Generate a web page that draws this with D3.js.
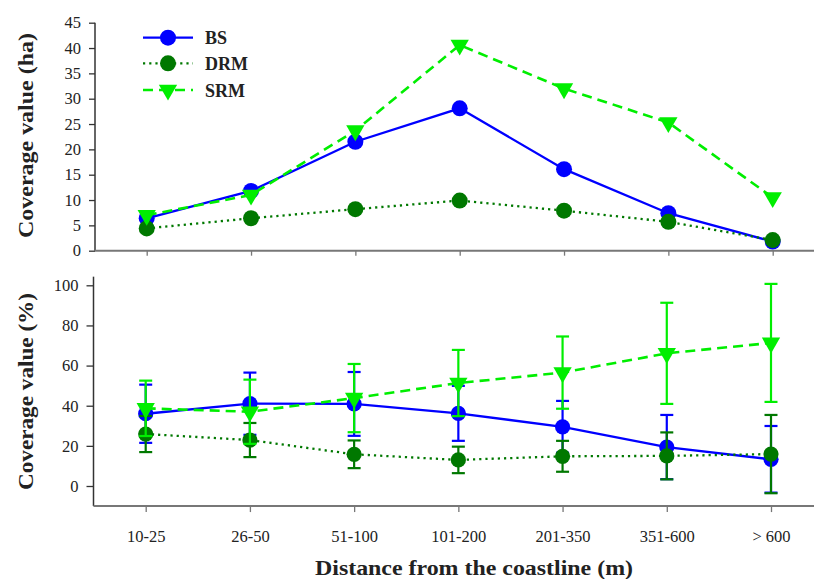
<!DOCTYPE html>
<html>
<head>
<meta charset="utf-8">
<script src="https://cdn.jsdelivr.net/npm/d3@7"></script>
<style>
  html, body { margin: 0; padding: 0; background: #fff; }
  svg { display: block; }
</style>
</head>
<body>
<svg id="chart" width="814" height="579"></svg>
<script>
// ---- data ----
const categories = ["10-25", "26-50", "51-100", "101-200", "201-350", "351-600", "> 600"];
const seriesNames = ["BS", "DRM", "SRM"];

// top panel: coverage value (ha)
const haBS  = [6.4, 11.8, 21.5, 28.1, 16.1, 7.4, 1.8];
const haDRM = [4.4, 6.4, 8.2, 9.9, 7.9, 5.7, 2.1];
const haSRM = [7.0, 11.0, 23.7, 40.6, 32.0, 25.3, 10.5];
const haTicks = [0, 5, 10, 15, 20, 25, 30, 35, 40, 45];

// bottom panel: coverage value (%) with error bars
const pctBS  = [36.0, 41.0, 40.9, 36.2, 29.5, 19.4, 13.3];
const errBS  = [14.5, 15.5, 15.9, 13.7, 12.9, 16.0, 16.6];
const pctDRM = [25.9, 22.9, 15.8, 13.0, 14.8, 15.0, 15.9];
const errDRM = [9.0, 8.5, 6.9, 6.6, 7.7, 11.7, 19.5];
const pctSRM = [38.7, 37.0, 43.8, 51.3, 56.5, 66.1, 71.3];
const errSRM = [13.8, 16.0, 17.0, 16.5, 18.0, 25.2, 29.4];
const pctTicks = [0, 20, 40, 60, 80, 100];

// ---- pick an installed serif font ----
function pickFont(cands) {
  const ctx = document.createElement("canvas").getContext("2d");
  const s = "mmmmmmmmmmlliiWQ@ 0123456789 abcdefghijklmnop";
  for (const f of cands) {
    for (const base of ["monospace", "sans-serif"]) {
      ctx.font = `40px ${base}`;
      const w0 = ctx.measureText(s).width;
      ctx.font = `40px "${f}", ${base}`;
      const w1 = ctx.measureText(s).width;
      if (Math.abs(w0 - w1) > 0.5) return `"${f}", serif`;
    }
  }
  return "serif";
}
const FONT = pickFont(["Liberation Serif", "Tinos", "Times New Roman", "Nimbus Roman", "DejaVu Serif", "Noto Serif"]);

// ---- styles ----
const styles = {
  BS:  { color: "#0000ff", dash: null,    width: 2.3, marker: "circle" },
  DRM: { color: "#007800", dash: "2.2,4", width: 2.3, marker: "circle" },
  SRM: { color: "#00ee00", dash: "10,6",  width: 2.6, marker: "triangle" }
};

const svg = d3.select("#chart");
const W = 814;

// ---- scales ----
const xTop = d3.scalePoint().domain(categories).range([146.7, 772.7]);
const yTop = d3.scaleLinear().domain([0, 45]).range([250.7, 22.7]);
const xBot = d3.scalePoint().domain(categories).range([145.7, 771]);
const yBot = d3.scaleLinear().domain([0, 100]).range([486, 285.3]);

function drawMarker(g, name, cx, cy, big) {
  const st = styles[name];
  if (st.marker === "circle") {
    g.append("circle").attr("cx", cx).attr("cy", cy).attr("r", big ? 8 : 7.6)
      .attr("fill", st.color);
  } else {
    g.append("path")
      .attr("d", d3.symbol().type(d3.symbolTriangle).size(145)())
      .attr("transform", `translate(${cx},${cy}) rotate(180)`)
      .attr("fill", st.color);
  }
}

function styleAxis(g, color) {
  g.selectAll(".domain").remove();
  g.attr("font-family", null).attr("font-size", null);
  g.selectAll(".tick line").attr("stroke", color).attr("stroke-width", 1.3);
  g.selectAll(".tick text").attr("fill", "#222")
    .style("font-size", "16.5px").style("font-family", FONT);
}

// ---- top panel axes ----
const gyTop = svg.append("g").attr("transform", `translate(95,0)`)
  .call(d3.axisLeft(yTop).tickValues(haTicks).tickSize(6).tickPadding(8));
styleAxis(gyTop, "#333");
svg.append("line").attr("x1", 95).attr("x2", 95)
  .attr("y1", yTop(45)).attr("y2", yTop(0)).attr("stroke", "#333").attr("stroke-width", 1.5);

const gxTop = svg.append("g").attr("transform", `translate(0,${yTop(0)})`)
  .call(d3.axisBottom(xTop).tickSize(5).tickFormat(""));
styleAxis(gxTop, "#777");
svg.append("line").attr("x1", 95).attr("x2", W)
  .attr("y1", yTop(0)).attr("y2", yTop(0)).attr("stroke", "#777").attr("stroke-width", 2);

// ---- bottom panel axes ----
const gyBot = svg.append("g").attr("transform", `translate(93.5,0)`)
  .call(d3.axisLeft(yBot).tickValues(pctTicks).tickSize(7).tickPadding(8));
styleAxis(gyBot, "#333");
svg.append("line").attr("x1", 93.5).attr("x2", 93.5)
  .attr("y1", yBot(104.3)).attr("y2", yBot(-10)).attr("stroke", "#333").attr("stroke-width", 1.5);

const gxBot = svg.append("g").attr("transform", `translate(0,${yBot(-10)})`)
  .call(d3.axisBottom(xBot).tickSize(6).tickPadding(18));
styleAxis(gxBot, "#777");
svg.append("line").attr("x1", 93.5).attr("x2", W)
  .attr("y1", yBot(-10)).attr("y2", yBot(-10)).attr("stroke", "#777").attr("stroke-width", 2);

// ---- titles ----
function title(sel) {
  return sel.attr("text-anchor", "middle").attr("lengthAdjust", "spacingAndGlyphs")
    .style("font-size", "21px").style("font-weight", "bold")
    .style("font-family", FONT).attr("fill", "#222");
}
title(svg.append("text")
  .attr("transform", `translate(33,135.5) rotate(-90)`)
  .attr("textLength", 205))
  .text("Coverage value (ha)");

title(svg.append("text")
  .attr("transform", `translate(33,391.5) rotate(-90)`)
  .attr("textLength", 197))
  .text("Coverage value (%)");

title(svg.append("text")
  .attr("x", 474).attr("y", 575)
  .attr("textLength", 318))
  .text("Distance from the coastline (m)");

// ---- top panel series ----
const topData = { BS: haBS, DRM: haDRM, SRM: haSRM };
seriesNames.forEach(name => {
  const st = styles[name];
  const vals = topData[name];
  const g = svg.append("g");
  const line = d3.line().x((d, i) => xTop(categories[i])).y(d => yTop(d));
  g.append("path").datum(vals).attr("d", line)
    .attr("fill", "none").attr("stroke", st.color).attr("stroke-width", st.width)
    .attr("stroke-dasharray", st.dash);
  vals.forEach((v, i) => drawMarker(g, name, xTop(categories[i]), yTop(v), true));
});

// ---- bottom panel series ----
const botData = {
  BS: [pctBS, errBS], DRM: [pctDRM, errDRM], SRM: [pctSRM, errSRM]
};
seriesNames.forEach(name => {
  const st = styles[name];
  const [vals, errs] = botData[name];
  const g = svg.append("g");
  const line = d3.line().x((d, i) => xBot(categories[i])).y(d => yBot(d));
  g.append("path").datum(vals).attr("d", line)
    .attr("fill", "none").attr("stroke", st.color).attr("stroke-width", st.width)
    .attr("stroke-dasharray", st.dash);
  vals.forEach((v, i) => {
    const cx = xBot(categories[i]);
    const y1 = yBot(v + errs[i]), y2 = yBot(v - errs[i]);
    g.append("line").attr("x1", cx).attr("x2", cx).attr("y1", y1).attr("y2", y2)
      .attr("stroke", st.color).attr("stroke-width", 2.2);
    [y1, y2].forEach(yy => {
      g.append("line").attr("x1", cx - 6.5).attr("x2", cx + 6.5).attr("y1", yy).attr("y2", yy)
        .attr("stroke", st.color).attr("stroke-width", 2.2);
    });
  });
  vals.forEach((v, i) => drawMarker(g, name, xBot(categories[i]), yBot(v), false));
});

// ---- legend ----
const legendRows = [37.7, 63.3, 90];
seriesNames.forEach((name, k) => {
  const st = styles[name];
  const g = svg.append("g");
  const y = legendRows[k];
  g.append("line").attr("x1", 143).attr("x2", 193).attr("y1", y).attr("y2", y)
    .attr("stroke", st.color).attr("stroke-width", st.width)
    .attr("stroke-dasharray", st.dash);
  drawMarker(g, name, 168, y, true);
  g.append("text").attr("x", 205).attr("y", y + 6.5)
    .style("font-size", "18px").style("font-weight", "bold")
    .style("font-family", FONT).attr("fill", "#222")
    .text(name);
});
</script>
</body>
</html>
